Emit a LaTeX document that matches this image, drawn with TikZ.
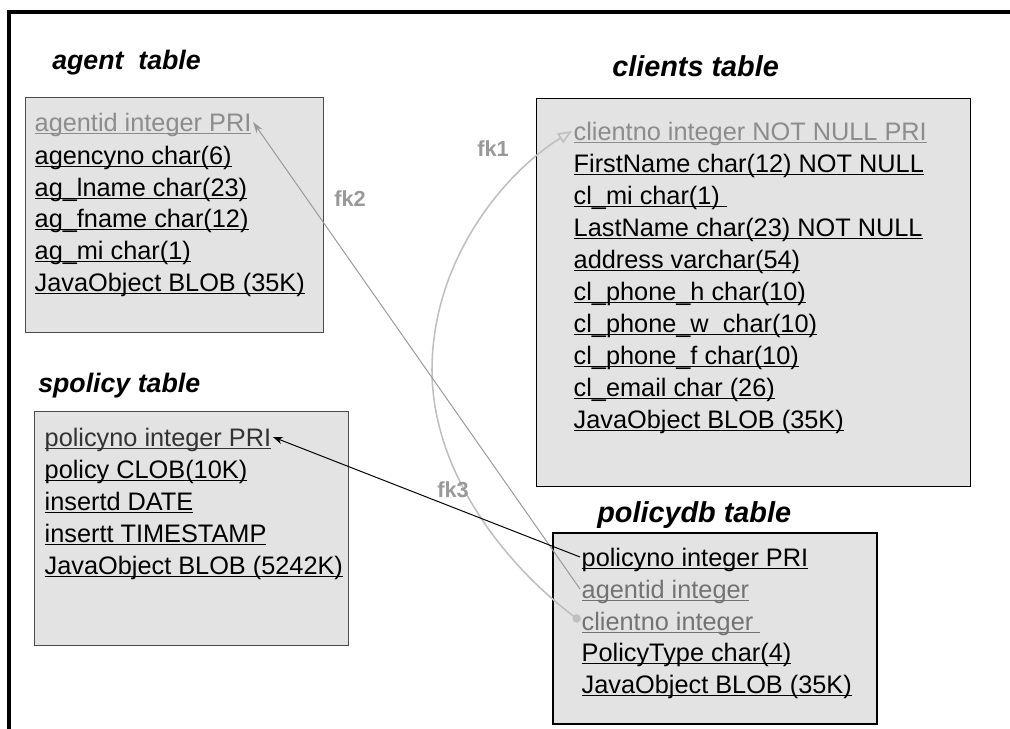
\documentclass[tikz,border=0pt]{standalone}
\usepackage{fontspec}
\setmainfont{Liberation Sans}
\usetikzlibrary{arrows.meta}

\newcommand{\fld}[1]{\underline{\smash{#1}}}

\tikzset{
  tbl/.style={draw=black!70, fill=black!11, line width=0.7pt},
  row/.style={anchor=west, inner sep=1pt, text height=13pt, text depth=0pt,
    font=\fontsize{18}{20}\selectfont},
  keyrow/.style={row, text=black!45},
  fkrow/.style={row, text=black!55},
  ttl/.style={anchor=west, inner sep=0pt, font=\bfseries\itshape\fontsize{19}{22}\selectfont},
  bigttl/.style={ttl, font=\bfseries\itshape\fontsize{20.5}{24}\selectfont},
  fklabel/.style={inner sep=0pt, text=black!40, font=\bfseries\fontsize{15.5}{18}\selectfont},
}

\begin{document}
\begin{tikzpicture}[x=0.025cm, y=-0.025cm]
  \useasboundingbox (0,0) rectangle (1010,728);
  \clip (0,0) rectangle (1010,728);
  \draw[line width=2.5pt] (9,12) rectangle (1040,760);

  % agent table
  \node[ttl] (agenttitle) at (52,63) {agent\ \ table};
  \draw[tbl] (25,97) rectangle (323,332);
  \node[keyrow] (a-agentid) at (33,122) {\fld{agentid integer PRI}};
  \node[row] (a-agencyno) at (33,155) {\fld{agencyno char(6)}};
  \node[row] (a-lname) at (33,187) {\fld{ag\_lname char(23)}};
  \node[row] (a-fname) at (33,218) {\fld{ag\_fname char(12)}};
  \node[row] (a-mi) at (33,250) {\fld{ag\_mi char(1)}};
  \node[row] (a-blob) at (33,282) {\fld{JavaObject BLOB (35K)}};

  % clients table
  \node[bigttl] (clienttitle) at (612,66) {clients table};
  \draw[tbl, draw=black] (536,98) rectangle (970,486);
  \node[keyrow] (c-clientno) at (572,131) {\fld{clientno integer NOT NULL PRI}};
  \node[row] (c-first) at (572,163) {\fld{FirstName char(12) NOT NULL}};
  \node[row] (c-mi) at (572,195) {\fld{cl\_mi char(1)\ }};
  \node[row] (c-last) at (572,227) {\fld{LastName char(23) NOT NULL}};
  \node[row] (c-address) at (572,259) {\fld{address varchar(54)}};
  \node[row] (c-phoneh) at (572,291) {\fld{cl\_phone\_h char(10)}};
  \node[row] (c-phonew) at (572,323) {\fld{cl\_phone\_w\ \ char(10)}};
  \node[row] (c-phonef) at (572,355) {\fld{cl\_phone\_f char(10)}};
  \node[row] (c-email) at (572,387) {\fld{cl\_email char (26)}};
  \node[row] (c-blob) at (572,419) {\fld{JavaObject BLOB (35K)}};

  % spolicy table
  \node[ttl] (sptitle) at (38,386) {spolicy table};
  \draw[tbl] (34,411) rectangle (348,645);
  \node[row, text=black!80] (sp-policyno) at (43,437) {\fld{policyno integer PRI}};
  \node[row] (sp-policy) at (43,469) {\fld{policy CLOB(10K)}};
  \node[row] (sp-insertd) at (43,501) {\fld{insertd DATE}};
  \node[row] (sp-insertt) at (43,533) {\fld{insertt TIMESTAMP}};
  \node[row] (sp-blob) at (43,565) {\fld{JavaObject BLOB (5242K)}};

  % policydb table
  \node[bigttl] (pdbtitle) at (597,515) {policydb table};
  \draw[tbl, draw=black, line width=1.5pt] (553,533) rectangle (877,724);
  \node[row] (pdb-policyno) at (580,557) {\fld{policyno integer PRI}};
  \node[fkrow] (pdb-agentid) at (580,589) {\fld{agentid integer}};
  \node[fkrow] (pdb-clientno) at (580,621) {\fld{clientno integer\ }};
  \node[row] (pdb-type) at (580,652) {\fld{PolicyType char(4)}};
  \node[row] (pdb-blob) at (580,684) {\fld{JavaObject BLOB (35K)}};

  % foreign keys
  \coordinate (fkbend) at (432,370);
  \draw[black!25, line width=1.1pt, {Circle[length=6pt]}-{Triangle[open, length=10pt, width=8pt]}]
    (pdb-clientno.west) .. controls +(-78,-59) and +(0,100) .. (fkbend)
    .. controls +(0,-110) and +(-68,42) .. (c-clientno.west);
  \draw[black!40, line width=0.7pt, -{Stealth[length=8pt, width=5pt]}] (pdb-agentid.west) -- (a-agentid.east);
  \draw[black, line width=0.7pt, -{Stealth[length=7pt, width=5pt]}] (pdb-policyno.west) -- (sp-policyno.east);

  \node[fklabel] (fk1) at (493,149) {fk1};
  \node[fklabel] (fk2) at (350,199) {fk2};
  \node[fklabel] (fk3) at (453,490) {fk3};
\end{tikzpicture}
\end{document}
